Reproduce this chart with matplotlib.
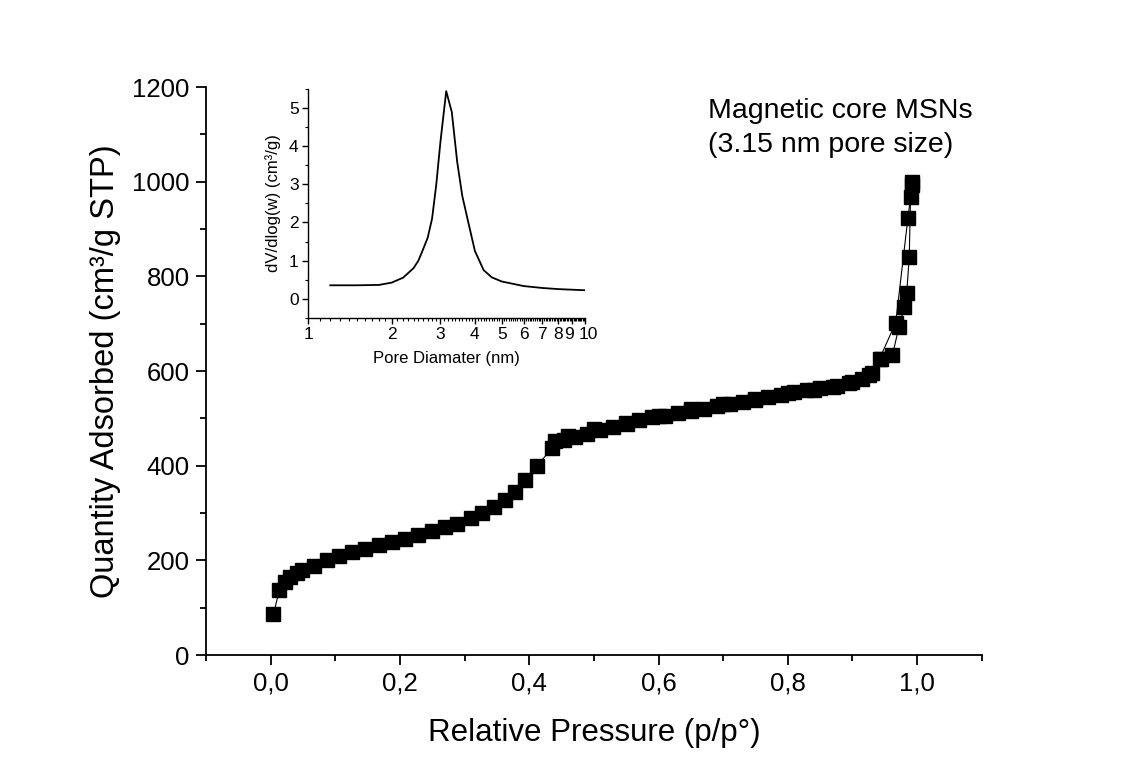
import matplotlib
matplotlib.use("Agg")
import matplotlib.pyplot as plt
from matplotlib.ticker import MultipleLocator, FixedLocator, FuncFormatter, NullFormatter
from matplotlib.transforms import offset_copy, blended_transform_factory

plt.rcParams['font.family'] = ['Liberation Sans', 'DejaVu Sans']

# adsorption branch (p/p0, cm3/g STP)
ads_p = [0.004, 0.013, 0.022, 0.030, 0.040, 0.048, 0.066, 0.087, 0.105, 0.125,
         0.146, 0.167, 0.187, 0.208, 0.228, 0.249, 0.270, 0.288, 0.309, 0.327,
         0.345, 0.363, 0.378, 0.394, 0.412, 0.435, 0.453, 0.471, 0.489, 0.510,
         0.530, 0.551, 0.569, 0.590, 0.610, 0.630, 0.650, 0.670, 0.690, 0.710,
         0.730, 0.750, 0.770, 0.790, 0.810, 0.830, 0.850, 0.876, 0.894, 0.915,
         0.930, 0.945, 0.962, 0.972, 0.980, 0.984, 0.988, 0.990, 0.992]
ads_q = [86, 137, 155, 165, 174, 180, 188, 200, 209, 218,
         225, 232, 239, 246, 253, 262, 270, 278, 289, 301,
         312, 327, 345, 370, 400, 437, 454, 461, 468, 475,
         482, 489, 496, 502, 506, 511, 516, 520, 526, 530,
         535, 540, 545, 550, 555, 560, 564, 568, 574, 583,
         596, 626, 634, 693, 735, 764, 841, 968, 993]

# desorption branch
des_p = [0.993, 0.986, 0.967, 0.942, 0.925, 0.900, 0.870, 0.840, 0.800,
         0.750, 0.700, 0.650, 0.600, 0.550, 0.500, 0.460, 0.440]
des_q = [1000, 924, 702, 626, 592, 576, 567, 560, 553,
         541, 530, 519, 506, 491, 477, 462, 452]

# pore size distribution (inset)
pore_d = [1.2, 1.5, 1.8, 2.0, 2.2, 2.4, 2.5, 2.6, 2.7, 2.8, 2.9, 3.0, 3.15,
          3.3, 3.45, 3.6, 3.8, 4.0, 4.3, 4.6, 5.0, 6.0, 7.0, 8.0, 10.0]
pore_v = [0.35, 0.35, 0.36, 0.42, 0.55, 0.80, 1.00, 1.30, 1.60, 2.10, 3.00, 4.10, 5.45,
          4.90, 3.60, 2.70, 1.95, 1.25, 0.75, 0.56, 0.45, 0.33, 0.28, 0.25, 0.22]
inset_ticks = [1, 2, 3, 4, 5, 6, 7, 8, 9, 10]

fig = plt.figure(figsize=(11.27, 7.78), dpi=100)

ax = fig.add_axes([0.183, 0.158, 0.688, 0.730])
ax.plot(ads_p, ads_q, color='black', lw=0.8, marker='s', ms=10, mfc='black', mec='black')
ax.plot(des_p, des_q, color='black', lw=0.8, marker='s', ms=10, mfc='black', mec='black')

ax.set_xlim(-0.1, 1.1)
ax.set_ylim(0, 1200)
ax.xaxis.set_minor_locator(MultipleLocator(0.1))
ax.yaxis.set_major_locator(MultipleLocator(200))
ax.yaxis.set_minor_locator(MultipleLocator(100))
ax.set_xticks([0.0, 0.2, 0.4, 0.6, 0.8, 1.0])
ax.xaxis.set_major_formatter(FuncFormatter(lambda v, pos: f'{v:.1f}'.replace('.', ',')))
for s in ['top', 'right']:
    ax.spines[s].set_visible(False)
for s in ['left', 'bottom']:
    ax.spines[s].set_linewidth(1.3)
ax.tick_params(which='major', direction='out', length=7, width=1.3, labelsize=18.5, pad=5)
ax.tick_params(which='minor', direction='out', length=4, width=1.3)
ax.set_xlabel('Relative Pressure (p/p°)', fontsize=22.5, labelpad=16)
ax.set_ylabel('Quantity Adsorbed (cm³/g STP)', fontsize=23.5, labelpad=8)

ax.text(0.677, 1134, 'Magnetic core MSNs', fontsize=20.5, ha='left', va='baseline')
ax.text(0.677, 1063, '(3.15 nm pore size)', fontsize=20.5, ha='left', va='baseline')

# inset
ins = fig.add_axes([0.2736, 0.5917, 0.2455, 0.2936])
ins.patch.set_alpha(0)
ins.plot(pore_d, pore_v, color='black', lw=1.3)
ins.set_xscale('log')
ins.set_xlim(1, 10)
ins.set_ylim(-0.5, 5.5)
ins.xaxis.set_major_locator(FixedLocator(inset_ticks))
# 9 and 10 sit very close on the log axis: draw them by hand, nudged apart
ins.xaxis.set_major_formatter(FuncFormatter(lambda v, pos: '' if v >= 9 else f'{v:g}'))
minor_pos = [i + k / 10 for i in range(1, 10) for k in range(1, 10)]
ins.xaxis.set_minor_locator(FixedLocator(minor_pos))
ins.xaxis.set_minor_formatter(NullFormatter())
ins.yaxis.set_major_locator(MultipleLocator(1))
ins.yaxis.set_minor_locator(MultipleLocator(0.5))
for s in ['top', 'right']:
    ins.spines[s].set_visible(False)
for s in ['left', 'bottom']:
    ins.spines[s].set_linewidth(1.0)
ins.tick_params(which='major', direction='out', length=4, width=1.0, labelsize=12.5, pad=3)
ins.tick_params(which='minor', direction='out', length=2, width=0.8)
ins.set_xlabel('Pore Diamater (nm)', fontsize=12, labelpad=6)
ins.set_ylabel('dV/dlog(w) (cm³/g)', fontsize=12, labelpad=6)

trans = blended_transform_factory(ins.transData, ins.transAxes)
for v, dx in [(inset_ticks[-2], -2.2), (inset_ticks[-1], 2.2)]:
    ins.text(v, 0, f'{v:g}', fontsize=12.5, ha='center', va='top',
             transform=offset_copy(trans, fig=fig, x=dx, y=-7, units='points'))

fig.savefig('out.png', dpi=100, facecolor='white')
